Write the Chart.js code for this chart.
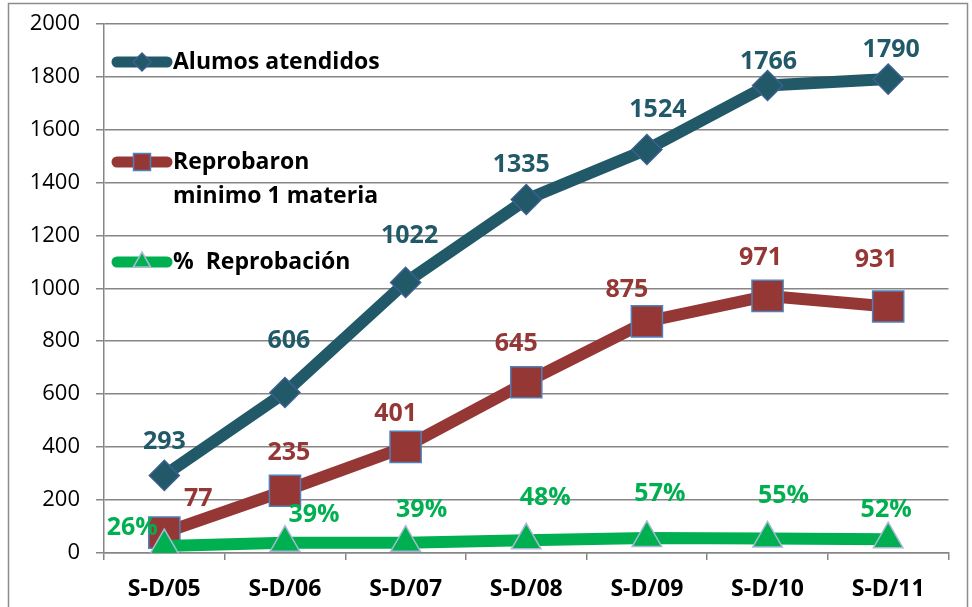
<!DOCTYPE html>
<html>
<head>
<meta charset="utf-8">
<script src="https://cdn.jsdelivr.net/npm/chart.js@4/dist/chart.umd.min.js"></script>
<style>
  html, body { margin: 0; padding: 0; background: #fff; }
  canvas { display: block; }
</style>
</head>
<body>
<canvas id="chart" width="972" height="607"></canvas>
<script>
'use strict';

// categories + series
let periods = ['S-D/05', 'S-D/06', 'S-D/07', 'S-D/08', 'S-D/09', 'S-D/10', 'S-D/11'];
let atendidos = [293, 606, 1022, 1335, 1524, 1766, 1790];
let reprobaron = [77, 235, 401, 645, 875, 971, 931];
let pctReprobacion = [26, 39, 39, 48, 57, 55, 52];
let yTicks = [0, 200, 400, 600, 800, 1000, 1200, 1400, 1600, 1800, 2000];

let FONT = '"Open Sans", Lato, sans-serif';
let BLUE = '#215968';
let RED = '#953735';
let GREEN = '#00B050';
let GRID = '#868686';

// data labels, nudged by hand like in the excel original
let valueLabels = {
    id: 'valueLabels',
    afterDatasetsDraw(chart) {
        let ctx = chart.ctx;
        chart.data.datasets.forEach(function (ds, i) {
            let meta = chart.getDatasetMeta(i);
            ctx.save();
            ctx.font = 'bold 25px ' + FONT;
            ctx.fillStyle = ds.labelColor;
            ctx.textAlign = 'center';
            ctx.textBaseline = 'middle';
            meta.data.forEach(function (pt, j) {
                let n = ds.labelNudge[j];
                ctx.fillText(ds.data[j] + ds.labelSuffix, pt.x + n[0], pt.y + n[1]);
            });
            ctx.restore();
        });
    }
};

// legend sits inside the plot, left side
let insideLegend = {
    id: 'insideLegend',
    afterDraw(chart) {
        let ctx = chart.ctx;
        let rows = [
            {y: 62, lines: ['Alumos atendidos'], ds: 0},
            {y: 162, lines: ['Reprobaron', 'minimo 1 materia'], ds: 1},
            {y: 262, lines: ['%  Reprobación'], ds: 2}
        ];
        rows.forEach(function (r) {
            let ds = chart.data.datasets[r.ds];
            ctx.save();
            ctx.strokeStyle = ds.borderColor;
            ctx.lineWidth = 11;
            ctx.lineCap = 'round';
            ctx.beginPath();
            ctx.moveTo(117, r.y);
            ctx.lineTo(167, r.y);
            ctx.stroke();

            ctx.fillStyle = ds.pointBackgroundColor;
            ctx.strokeStyle = ds.pointBorderColor;
            ctx.lineWidth = 1.5;
            Chart.helpers.drawPoint(ctx, {
                pointStyle: ds.pointStyle,
                radius: ds.legendRadius,
                borderWidth: 1.5
            }, 142, r.y);
            ctx.restore();

            ctx.save();
            ctx.font = 'bold 23px ' + FONT;
            ctx.fillStyle = '#000';
            ctx.textBaseline = 'middle';
            r.lines.forEach(function (t, k) {
                ctx.fillText(t, 173, r.y + k * 34);
            });
            ctx.restore();
        });
    }
};

// grey frame round the whole chart
let frame = {
    id: 'frame',
    afterDraw(chart) {
        let ctx = chart.ctx;
        ctx.save();
        ctx.strokeStyle = '#8c8c8c';
        ctx.lineWidth = 1.5;
        ctx.strokeRect(8.5, 3.5, 959, 640);
        ctx.restore();
    }
};

new Chart(document.getElementById('chart'), {
    type: 'line',
    data: {
        labels: periods,
        datasets: [
            {
                label: 'Alumos atendidos',
                data: atendidos,
                order: 3,
                borderColor: BLUE,
                borderWidth: 12,
                borderJoinStyle: 'round',
                pointStyle: 'rectRot',
                pointRadius: 15,
                legendRadius: 9,
                pointBackgroundColor: BLUE,
                pointBorderColor: '#3C5F91',
                pointBorderWidth: 1.5,
                labelColor: BLUE,
                labelSuffix: '',
                labelNudge: [[0, -34], [4, -52], [4, -47], [-5, -35], [11, -40], [1, -24], [3, -29]]
            },
            {
                label: 'Reprobaron minimo 1 materia',
                data: reprobaron,
                order: 2,
                borderColor: RED,
                borderWidth: 12,
                borderJoinStyle: 'round',
                pointStyle: 'rect',
                pointRadius: 22,
                legendRadius: 12,
                pointBackgroundColor: RED,
                pointBorderColor: '#4F81BD',
                pointBorderWidth: 1.5,
                labelColor: RED,
                labelSuffix: '',
                labelNudge: [[34, -34], [4, -38], [-10, -33], [-10, -38], [-20, -31], [-7, -38], [-12, -47]]
            },
            {
                label: '%  Reprobación',
                data: pctReprobacion,
                order: 1,
                borderColor: GREEN,
                borderWidth: 12,
                borderJoinStyle: 'round',
                pointStyle: 'triangle',
                pointRadius: 17,
                legendRadius: 10,
                pointBackgroundColor: GREEN,
                pointBorderColor: '#A9B8D8',
                pointBorderWidth: 1.5,
                labelColor: GREEN,
                labelSuffix: '%',
                labelNudge: [[-32, -18], [29, -28], [16, -33], [19, -42], [13, -44], [16, -43], [-2, -29]]
            }
        ]
    },
    options: {
        responsive: false,
        animation: false,
        layout: {padding: {top: 16, right: 19, left: 0, bottom: 0}},
        plugins: {
            legend: {display: false},
            tooltip: {enabled: false}
        },
        scales: {
            x: {
                offset: true,
                afterFit: function (scale) {
                    scale.height = 54;
                    scale.paddingLeft = 0;
                    scale.paddingRight = 0;
                },
                grid: {
                    offset: true,
                    drawOnChartArea: false,
                    drawTicks: true,
                    tickLength: 7,
                    color: GRID,
                    lineWidth: 1.5
                },
                border: {color: GRID, width: 1.5},
                ticks: {
                    color: '#000',
                    padding: 16,
                    font: {family: FONT, size: 23, weight: 'bold'}
                }
            },
            y: {
                min: 0,
                max: 2000,
                afterFit: function (scale) {
                    scale.width = 104;
                    scale.paddingTop = 0;
                    scale.paddingBottom = 0;
                },
                afterBuildTicks: function (scale) {
                    scale.ticks = yTicks.map(function (v) { return {value: v}; });
                },
                grid: {
                    color: GRID,
                    lineWidth: 1.5,
                    tickLength: 8
                },
                border: {color: GRID, width: 1.5},
                ticks: {
                    color: '#000',
                    padding: 16,
                    font: {family: FONT, size: 22},
                    callback: function (v) { return String(v); }
                }
            }
        }
    },
    plugins: [valueLabels, insideLegend, frame]
});
</script>
</body>
</html>
